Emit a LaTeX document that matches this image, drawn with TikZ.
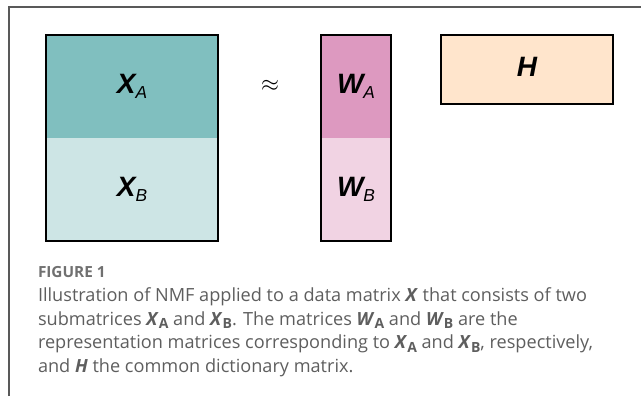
\documentclass[tikz,border=0pt]{standalone}
\usepackage{fontspec}
\setmainfont{Open Sans}
\newfontfamily\labelfont{Liberation Sans}
\usetikzlibrary{positioning}

\definecolor{xtop}{HTML}{80BFBF}
\definecolor{xbot}{HTML}{CDE5E5}
\definecolor{wtop}{HTML}{DD99C0}
\definecolor{wbot}{HTML}{F1D3E3}
\definecolor{hfill}{HTML}{FFE5CC}
\definecolor{capgray}{HTML}{5E5E5E}
\definecolor{figgray}{HTML}{707070}

% matrix label: bold italic letter with italic subscript
\newcommand{\mlab}[2]{{\labelfont\fontsize{21}{24}\selectfont\bfseries\itshape #1}{\labelfont\fontsize{13}{14}\selectfont\itshape\raisebox{-3.5pt}{#2}}}
% the same inside the caption text
\newcommand{\cvar}[2]{\textbf{\textit{#1}}\raisebox{-2.8pt}{\fontsize{10.5}{11}\selectfont\bfseries #2}}

\begin{document}
\begin{tikzpicture}[x=0.75pt,y=-0.75pt,
  blk/.style={inner sep=0pt,outer sep=0pt},
  wide/.style={blk,minimum width=129pt},
  narrow/.style={blk,minimum width=52.5pt},
  half/.style={minimum height=77.25pt},
  outline/.style={draw=black,line width=1.1pt}]
\useasboundingbox (0,0) rectangle (641,396);
\draw[gray!70!black,line width=0.8pt] (9,396) -- (9,7) -- (641,7);

% X = [X_A; X_B]
\node[wide,half,fill=xtop,anchor=north west] (xa) at (46,35) {\mlab{X}{A}};
\node[wide,half,fill=xbot,below=0pt of xa] (xb) {\mlab{X}{B}};
\draw[outline] (xa.north west) rectangle (xb.south east);

\node (approx) at (270,86) {\fontsize{18}{20}\selectfont$\approx$};

% W = [W_A; W_B]
\node[narrow,half,fill=wtop,anchor=north west] (wa) at (321,35) {\mlab{W}{A}};
\node[narrow,half,fill=wbot,below=0pt of wa] (wb) {\mlab{W}{B}};
\draw[outline] (wa.north west) rectangle (wb.south east);

\node[wide,outline,fill=hfill,minimum height=51.75pt,anchor=north west] (h) at (441,35) {\mlab{H}{}};

% caption
\node[blk,anchor=base west,text=figgray,font=\fontsize{11.5}{13}\selectfont\bfseries] (fig) at (38,277) {FIGURE 1};
\node[blk,align=left,text=capgray,font=\fontsize{13.6}{17.6}\selectfont,below=8pt of fig.south west,anchor=north west] (cap) {Illustration of NMF applied to a data matrix \textbf{\textit{X}} that consists of two\\
submatrices \cvar{X}{A} and \cvar{X}{B}. The matrices \cvar{W}{A} and \cvar{W}{B} are the\\
representation matrices corresponding to \cvar{X}{A} and \cvar{X}{B}, respectively,\\
and \textbf{\textit{H}} the common dictionary matrix.};
\end{tikzpicture}
\end{document}
